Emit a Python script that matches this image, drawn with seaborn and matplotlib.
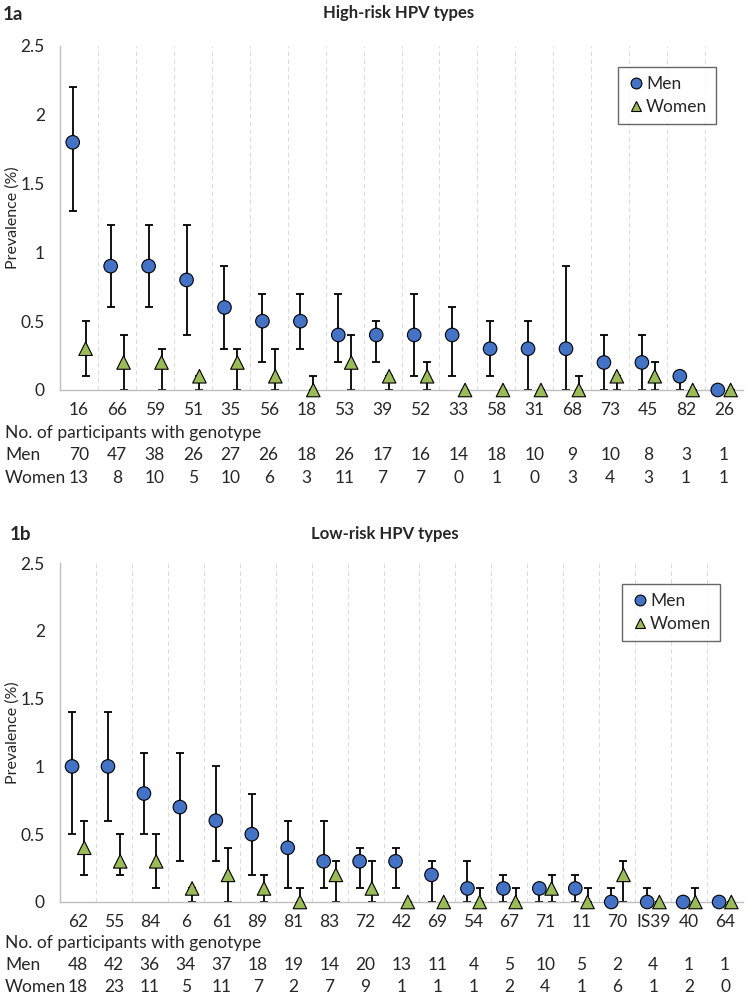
import numpy as np
import pandas as pd
import matplotlib.pyplot as plt
import matplotlib.transforms as mtransforms
import seaborn as sns

# ---- 1a: high-risk HPV types ----
hr_types = ['16', '66', '59', '51', '35', '56', '18', '53', '39', '52',
            '33', '58', '31', '68', '73', '45', '82', '26']
hr_men = [1.8, 0.9, 0.9, 0.8, 0.6, 0.5, 0.5, 0.4, 0.4, 0.4, 0.4, 0.3, 0.3, 0.3, 0.2, 0.2, 0.1, 0.0]
hr_men_lo = [1.3, 0.6, 0.6, 0.4, 0.3, 0.2, 0.3, 0.2, 0.2, 0.1, 0.1, 0.1, 0.0, 0.0, 0.0, 0.0, 0.0, 0.0]
hr_men_hi = [2.2, 1.2, 1.2, 1.2, 0.9, 0.7, 0.7, 0.7, 0.5, 0.7, 0.6, 0.5, 0.5, 0.9, 0.4, 0.4, 0.1, 0.0]
hr_women = [0.3, 0.2, 0.2, 0.1, 0.2, 0.1, 0.0, 0.2, 0.1, 0.1, 0.0, 0.0, 0.0, 0.0, 0.1, 0.1, 0.0, 0.0]
hr_women_lo = [0.1, 0.0, 0.0, 0.0, 0.0, 0.0, 0.0, 0.0, 0.0, 0.0, 0.0, 0.0, 0.0, 0.0, 0.0, 0.0, 0.0, 0.0]
hr_women_hi = [0.5, 0.4, 0.3, 0.1, 0.3, 0.3, 0.1, 0.4, 0.1, 0.2, 0.0, 0.0, 0.0, 0.1, 0.1, 0.2, 0.0, 0.0]
hr_n_men = [70, 47, 38, 26, 27, 26, 18, 26, 17, 16, 14, 18, 10, 9, 10, 8, 3, 1]
hr_n_women = [13, 8, 10, 5, 10, 6, 3, 11, 7, 7, 0, 1, 0, 3, 4, 3, 1, 1]

# ---- 1b: low-risk HPV types ----
lr_types = ['62', '55', '84', '6', '61', '89', '81', '83', '72', '42',
            '69', '54', '67', '71', '11', '70', 'IS39', '40', '64']
lr_men = [1.0, 1.0, 0.8, 0.7, 0.6, 0.5, 0.4, 0.3, 0.3, 0.3, 0.2, 0.1, 0.1, 0.1, 0.1, 0.0, 0.0, 0.0, 0.0]
lr_men_lo = [0.5, 0.6, 0.5, 0.3, 0.3, 0.2, 0.1, 0.1, 0.1, 0.1, 0.0, 0.0, 0.0, 0.0, 0.0, 0.0, 0.0, 0.0, 0.0]
lr_men_hi = [1.4, 1.4, 1.1, 1.1, 1.0, 0.8, 0.6, 0.6, 0.4, 0.4, 0.3, 0.3, 0.2, 0.1, 0.2, 0.1, 0.1, 0.0, 0.0]
lr_women = [0.4, 0.3, 0.3, 0.1, 0.2, 0.1, 0.0, 0.2, 0.1, 0.0, 0.0, 0.0, 0.0, 0.1, 0.0, 0.2, 0.0, 0.0, 0.0]
lr_women_lo = [0.2, 0.2, 0.1, 0.0, 0.0, 0.0, 0.0, 0.0, 0.0, 0.0, 0.0, 0.0, 0.0, 0.0, 0.0, 0.0, 0.0, 0.0, 0.0]
lr_women_hi = [0.6, 0.5, 0.5, 0.1, 0.4, 0.2, 0.1, 0.3, 0.3, 0.0, 0.0, 0.1, 0.1, 0.2, 0.1, 0.3, 0.0, 0.1, 0.0]
lr_n_men = [48, 42, 36, 34, 37, 18, 19, 14, 20, 13, 11, 4, 5, 10, 5, 2, 4, 1, 1]
lr_n_women = [18, 23, 11, 5, 11, 7, 2, 7, 9, 1, 1, 1, 2, 4, 1, 6, 1, 2, 0]

sns.set_style('white')
plt.rcParams['font.family'] = ['Lato', 'DejaVu Sans']

W, H = 752, 1000
fig = plt.figure(figsize=(W / 100, H / 100), dpi=100)

colors = {'Men': '#4472C4', 'Women': '#9BBB59'}
markers = {'Men': 'o', 'Women': '^'}
offsets = {'Men': -0.165, 'Women': 0.175}
FS = 12.5
TXT = '#262626'


def draw_panel(ax, types, men, men_lo, men_hi, women, women_lo, women_hi,
               n_men, n_women, rows_y, legend_xy):
    n = len(types)
    parts = []
    for sex, v, lo, hi in [('Men', men, men_lo, men_hi), ('Women', women, women_lo, women_hi)]:
        parts.append(pd.DataFrame({'pos': np.arange(n), 'sex': sex,
                                   'value': v, 'lo': lo, 'hi': hi}))
    df = pd.concat(parts, ignore_index=True)
    df['x'] = df['pos'] + df['sex'].map(offsets)

    # error bars
    for sex, sub in df.groupby('sex'):
        ax.errorbar(sub['x'], sub['value'],
                    yerr=[sub['value'] - sub['lo'], sub['hi'] - sub['value']],
                    fmt='none', ecolor='black', elinewidth=1.3, capsize=2.6,
                    capthick=1.3, zorder=2, clip_on=False)

    sns.scatterplot(data=df, x='x', y='value', hue='sex', style='sex',
                    palette=colors, markers=markers, s=95, edgecolor='black',
                    linewidth=0.8, zorder=3, ax=ax, clip_on=False)

    ax.set_xlim(-0.5, n - 0.5)
    ax.set_ylim(0, 2.5)
    ax.set_yticks([0, 0.5, 1, 1.5, 2, 2.5])
    ax.set_yticklabels(['0', '0.5', '1', '1.5', '2', '2.5'])
    ax.tick_params(axis='y', length=0, pad=11, labelsize=FS, labelcolor=TXT)
    ax.set_xticks(range(n))
    ax.set_xticklabels(types)
    ax.tick_params(axis='x', which='major', length=0, pad=8.5, labelsize=FS, labelcolor=TXT)
    ax.set_xticks(np.arange(n) + 0.5, minor=True)
    ax.tick_params(axis='x', which='minor', length=4, color='#BFBFBF', width=1)
    ax.grid(which='minor', axis='x', linestyle=(0, (4, 3)), color='#DCDCDC', linewidth=0.8)
    ax.grid(which='major', visible=False)
    for side in ['top', 'right']:
        ax.spines[side].set_visible(False)
    for side in ['left', 'bottom']:
        ax.spines[side].set_color('#BFBFBF')
        ax.spines[side].set_linewidth(1.0)
    ax.set_xlabel('')
    ax.set_ylabel('Prevalence (%)', fontsize=11.5, color=TXT)
    ax.yaxis.set_label_coords(-0.059, 0.5)

    # participant counts table
    trans = mtransforms.blended_transform_factory(ax.transData, fig.transFigure)
    y_no, y_men, y_women = rows_y
    fig.text(5 / W, 1 - y_no / H, 'No. of participants with genotype',
             ha='left', va='center', fontsize=FS, color=TXT)
    fig.text(5 / W, 1 - y_men / H, 'Men', ha='left', va='center', fontsize=FS, color=TXT)
    fig.text(5 / W, 1 - y_women / H, 'Women', ha='left', va='center', fontsize=FS, color=TXT)
    for i in range(n):
        ax.text(i, 1 - y_men / H, str(n_men[i]), transform=trans,
                ha='center', va='center', fontsize=FS, color=TXT)
        ax.text(i, 1 - y_women / H, str(n_women[i]), transform=trans,
                ha='center', va='center', fontsize=FS, color=TXT)

    sns.move_legend(ax, 'upper right', bbox_to_anchor=(legend_xy[0] / W, 1 - legend_xy[1] / H),
                    bbox_transform=fig.transFigure, title=None, frameon=True,
                    fancybox=False, edgecolor='#404040', fontsize=12.5,
                    borderaxespad=0, handletextpad=0.1, handlelength=1.0,
                    borderpad=0.5, labelspacing=0.45, markerscale=0.8)
    ax.get_legend().get_frame().set_linewidth(1.0)


ax1 = fig.add_axes([60 / W, 1 - 390 / H, 683 / W, 344 / H])
draw_panel(ax1, hr_types, hr_men, hr_men_lo, hr_men_hi, hr_women, hr_women_lo, hr_women_hi,
           hr_n_men, hr_n_women, (433, 455, 478), (716, 67))
fig.text(3 / W, 1 - 14 / H, '1a', ha='left', va='center', fontsize=13.5, fontweight='bold')
fig.text(399 / W, 1 - 13 / H, 'High-risk HPV types', ha='center', va='center',
         fontsize=12, fontweight='bold')

ax2 = fig.add_axes([60 / W, 1 - 902 / H, 683 / W, 339 / H])
draw_panel(ax2, lr_types, lr_men, lr_men_lo, lr_men_hi, lr_women, lr_women_lo, lr_women_hi,
           lr_n_men, lr_n_women, (943, 965, 987), (720, 584))
fig.text(10 / W, 1 - 535 / H, '1b', ha='left', va='center', fontsize=13.5, fontweight='bold')
fig.text(385 / W, 1 - 534 / H, 'Low-risk HPV types', ha='center', va='center',
         fontsize=12, fontweight='bold')

fig.savefig('out.png', dpi=100)
